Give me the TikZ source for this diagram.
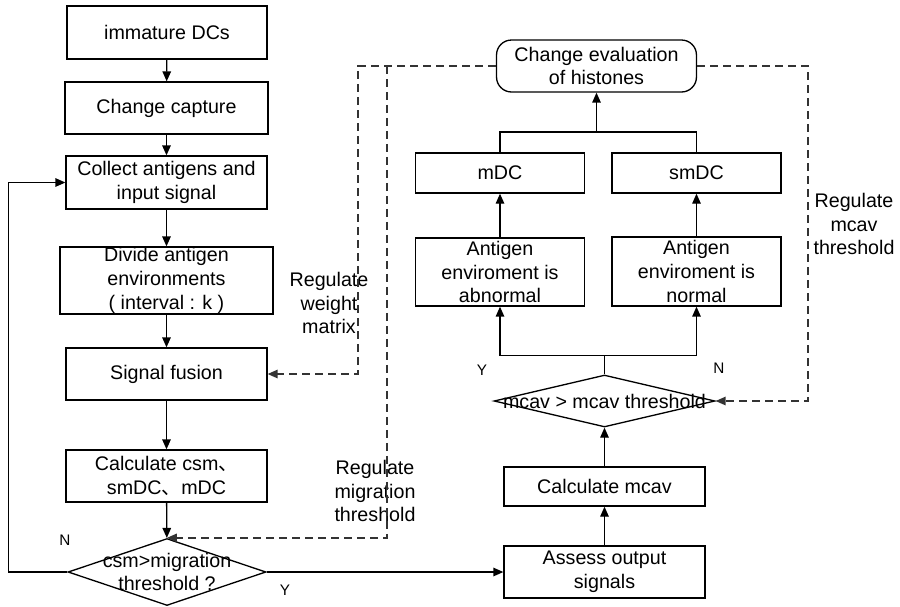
\documentclass[tikz,border=0pt]{standalone}
\usepackage{fontspec}
\setmainfont{Liberation Sans}
\newfontfamily\cjk{Noto Sans CJK SC}
\usetikzlibrary{shapes.geometric,arrows.meta}

\begin{document}
\begin{tikzpicture}[x=0.02cm,y=-0.02cm,line width=0.75pt,>={Triangle[length=0.2cm,width=0.17cm]},
  every node/.style={font=\fontsize{11.2}{13.6}\selectfont,align=center,inner sep=0pt},
  box/.style={draw,minimum width=4.02cm,minimum height=1.04cm},
  decision/.style={draw,diamond},
  yn/.style={font=\fontsize{8.7}{10}\selectfont},
  fb/.style={dash pattern=on 0.16cm off 0.1cm,black!80}]
   \useasboundingbox (0,0) rectangle (900,606);
   \node[box,minimum width=4cm,minimum height=1.06cm] (imm) at (167,32.5) {immature DCs};
   \node[box,minimum width=4.06cm] (cap) at (166.5,108) {Change capture};
   \node[box,minimum height=1.06cm] (collect) at (166.5,182.5) {Collect antigens and\\input signal};
   \node[box,minimum width=4.26cm,minimum height=1.34cm] (divide) at (166.5,280.5) {Divide antigen\\environments\\( interval : k )};
   \node[box] (fusion) at (166.5,374) {Signal fusion};
   \node[box] (calccsm) at (166.5,476) {Calculate csm{\cjk、}\\smDC{\cjk、}mDC};
   \node[decision,minimum width=3.96cm,minimum height=1.34cm] (q1) at (167,572) {};
   \node (q1t) at (q1) {csm>migration\\threshold ?};
   \node[box] (assess) at (604.5,572) {Assess output\\signals};
   \node[box,minimum height=0.78cm] (calcmcav) at (604.5,486.5) {Calculate mcav};
   \node[decision,minimum width=4.42cm,minimum height=1.04cm] (q2) at (604.5,401) {};
   \node (q2t) at (q2) {mcav > mcav threshold};
   \node[box,minimum width=3.38cm,minimum height=1.36cm] (abn) at (500,272) {Antigen\\enviroment is\\abnormal};
   \node[box,minimum width=3.38cm,minimum height=1.38cm] (nor) at (696.5,271.5) {Antigen\\enviroment is\\normal};
   \node[box,minimum width=3.38cm,minimum height=0.8cm] (mdc) at (500,173) {mDC};
   \node[box,minimum width=3.38cm,minimum height=0.8cm] (smdc) at (696.5,173) {smDC};
   \node[box,minimum width=4cm,rounded corners=0.3cm] (eval) at (596.5,66) {Change evaluation\\of histones};
   \node (lw) at (329,303) {Regulate\\weight\\matrix};
   \node (lm) at (375,491) {Regulate\\migration\\threshold};
   \node (lc) at (854,224) {Regulate\\mcav\\threshold};
   \node[yn] (n1) at (65,540) {N};
   \node[yn] (y1) at (285,590) {Y};
   \node[yn] (y2) at (482,370) {Y};
   \node[yn] (n2) at (719,368) {N};
   \coordinate (wm) at (358,66);
   \coordinate (mt) at (387,66);
   \coordinate (mc) at (808,66);
   \coordinate (merge) at (596.5,132);
   \draw[->] (imm) -- (cap);
   \draw[->] (cap) -- (collect);
   \draw[->] (collect) -- (divide);
   \draw[->] (divide) -- (fusion);
   \draw[->] (fusion) -- (calccsm);
   \draw[->] (calccsm) -- (q1);
   \draw[->] (q1.west) -- ++(-59,0) |- (collect.west);
   \draw[->] (q1.east) -- (assess.west);
   \draw[->] (assess) -- (calcmcav);
   \draw[->] (calcmcav) -- (q2);
   \draw (q2.north) -- ++(0,-19) coordinate (split);
   \draw[->] (split) -| (abn.south);
   \draw[->] (split) -| (nor.south);
   \draw[->] (abn) -- (mdc);
   \draw[->] (nor) -- (smdc);
   \draw (mdc.north) |- (merge) -| (smdc.north);
   \draw[->] (merge) -- (eval.south);
   \draw[fb,->] (eval.west) -- (wm) |- (fusion.east);
   \draw[fb,->] (mt) |- (q1.north);
   \draw[fb,->] (eval.east) -- (mc) |- (q2.east);
\end{tikzpicture}
\end{document}
